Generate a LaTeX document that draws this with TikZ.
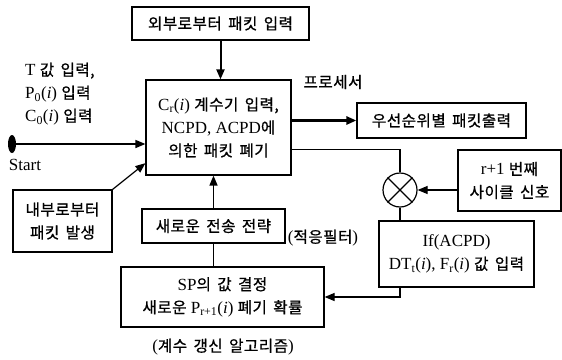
\documentclass[tikz,border=0pt]{standalone}
\usepackage{fontspec}
\setmainfont{Liberation Serif}
\newfontfamily\kr{Noto Sans CJK KR}[Scale=0.92, LetterSpace=3, WordSpace=1.6, FakeBold=0.8]
\usetikzlibrary{arrows.meta}

\begin{document}
\begin{tikzpicture}[x = 1pt, y = -1pt, font = \fontsize{17}{23}\selectfont,
  >={Triangle[length = 10pt, width = 8pt]}]
\tikzstyle{every node} = [inner sep = 0pt, align = center]
\tikzstyle{box} = [draw, line width = 1.2pt]
\useasboundingbox (0, 0) rectangle (562, 359);

\draw (220.5, 23.5) node[box, minimum width = 177pt, minimum height = 33pt] (1) {\kr 외부로부터 패킷 입력};
\draw (218.5, 127.5) node[box, minimum width = 145pt, minimum height = 95pt] (2) {C\textsubscript{r}(\textit{i}) {\kr 계수기 입력,}\\ NCPD, ACPD{\kr 에}\\ {\kr 의한 패킷 폐기}};
\draw (441.5, 120.5) node[box, minimum width = 169pt, minimum height = 35pt] (3) {\kr 우선순위별 패킷출력};
\draw (509.5, 180.5) node[box, minimum width = 103pt, minimum height = 61pt] (4) {r+1 {\kr 번째}\\ {\kr 사이클 신호}};
\draw (400, 190) node[draw, circle, line width = 1.2pt, minimum size = 34pt] (5) {};
\draw (456.5, 254) node[box, minimum width = 155pt, minimum height = 66pt] (6) {If(ACPD)\\ DT\textsubscript{t}(\textit{i}), F\textsubscript{r}(\textit{i}) {\kr 값 입력}};
\draw (62.5, 221) node[box, minimum width = 99pt, minimum height = 62pt] (7) {{\kr 내부로부터}\\ {\kr 패킷 발생}};
\draw (213.5, 226) node[box, minimum width = 143pt, minimum height = 34pt] (8) {\kr 새로운 전송 전략};
\draw (222.5, 297) node[box, minimum width = 203pt, minimum height = 60pt] (9) {SP{\kr 의 값 결정}\\ {\kr 새로운} P\textsubscript{r+1}(\textit{i}) {\kr 폐기 확률}};

\draw (333, 82) node (10) {\kr 프로세서};
\draw (323, 238) node (11) {({\kr 적응필터})};
\draw (223, 347) node (12) {({\kr 계수 갱신 알고리즘})};
\draw (25, 94) node[anchor = west, align = left] (13) {T {\kr 값 입력,}\\ P\textsubscript{0}(\textit{i}) {\kr 입력}\\ C\textsubscript{0}(\textit{i}) {\kr 입력}};
\draw (25, 165) node (14) {Start};
\coordinate (0) at (12, 144);
\fill (0) ellipse (4 and 9);

% crossing mark
\draw[line width = 1.2pt] (5.45) -- (5.225);
\draw[line width = 1.2pt] (5.135) -- (5.315);

\draw[->, line width = 2pt] (1.south) -- (1.south |- 2.north);
\draw[->, line width = 1.5pt] (0) -- (0 -| 2.west);
\draw[->, line width = 1.2pt] (7.north east) -- (2.206);
\draw[->, line width = 2.5pt] (2.east |- 3) -- (3.west);
\draw[line width = 1.2pt] (2.343) -| (5.north);
\draw[->, line width = 1.2pt] (4.west |- 5) -- (5.east);
\draw[line width = 1.2pt] (5.south) -- (5.south |- 6.north);
\draw[->, line width = 1.2pt] (5.south |- 6.south) |- (9.east);
\draw[line width = 1.2pt] (8.south |- 9.north) -- (8.south);
\draw[->, line width = 1.5pt] (8.north) -- (8.north |- 2.south);
\end{tikzpicture}
\end{document}
